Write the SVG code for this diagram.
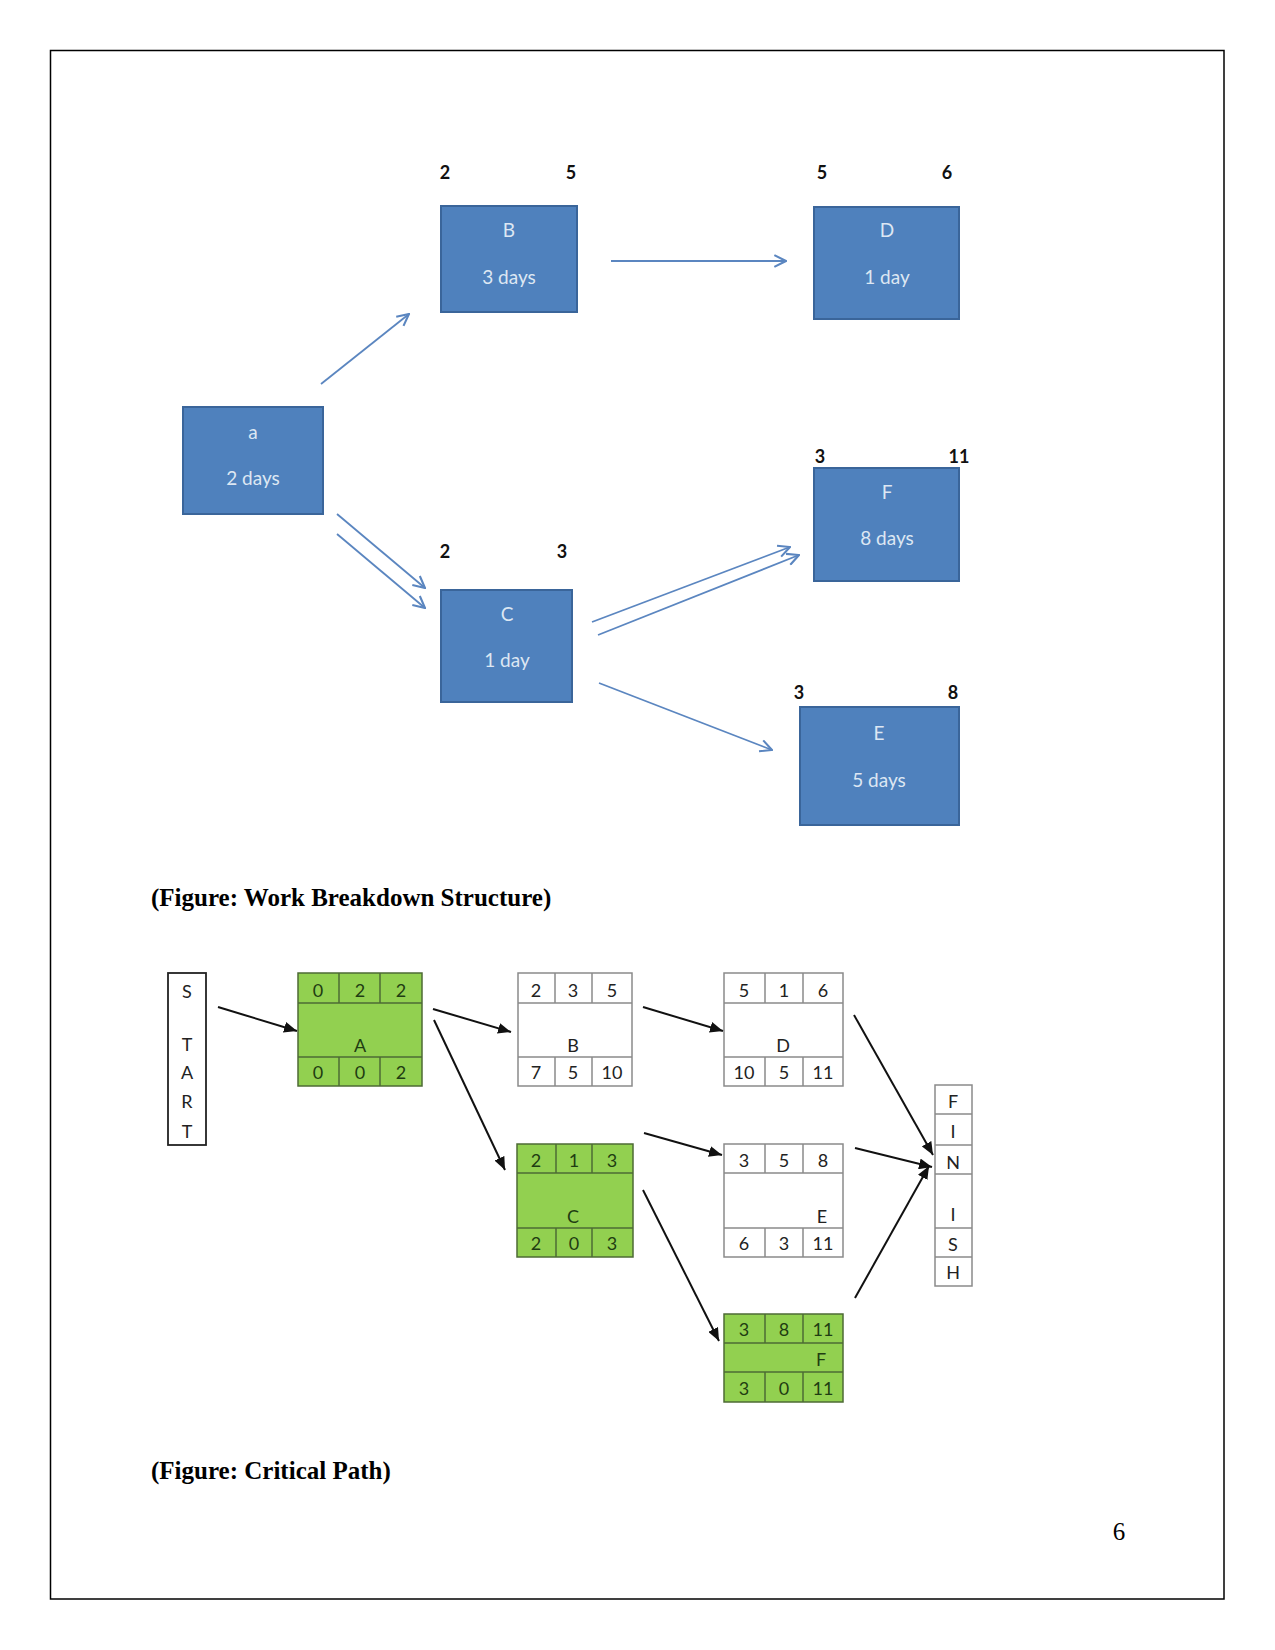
<svg xmlns="http://www.w3.org/2000/svg" width="1275" height="1650" viewBox="0 0 1275 1650">
<defs>
<style>
.bx{fill:#4f81bd;stroke:#3a659a;stroke-width:2}
.bt{font-family:Lato,"Open Sans",sans-serif;font-size:19px;fill:#dde7f3;text-anchor:middle}
.lb{font-family:Lato,"Open Sans",sans-serif;font-size:18px;font-weight:bold;fill:#111;text-anchor:middle}
.wa{stroke:#5b86c0;stroke-width:1.8;fill:none}
.ca{stroke:#111;stroke-width:2;fill:none}
.g{fill:#92d050;stroke:#4d6b35;stroke-width:1.5}
.w{fill:#fff;stroke:#8a8a8a;stroke-width:1.5}
.gl{stroke:#4d6b35;stroke-width:1.5}
.wl{stroke:#8a8a8a;stroke-width:1.5}
.ct{font-family:Lato,"Open Sans",sans-serif;font-size:18px;fill:#222;text-anchor:middle}
.cg{font-family:Lato,"Open Sans",sans-serif;font-size:18px;fill:#1f3d12;text-anchor:middle}
.cap{font-family:"Liberation Serif",serif;font-size:25px;font-weight:bold;fill:#000}
</style>
<marker id="oa" viewBox="0 0 12 12" refX="11" refY="6" markerWidth="14" markerHeight="14" markerUnits="userSpaceOnUse" orient="auto">
<path d="M1,1 L11,6 L1,11" fill="none" stroke="#5b86c0" stroke-width="1.8"/>
</marker>
<marker id="fa" viewBox="0 0 12 10" refX="12" refY="5" markerWidth="13" markerHeight="11" markerUnits="userSpaceOnUse" orient="auto">
<path d="M0,0 L12,5 L0,10 z" fill="#111"/>
</marker>
</defs>
<rect x="0" y="0" width="1275" height="1650" fill="#fff"/>
<rect x="50.5" y="50.5" width="1173.5" height="1548.5" fill="none" stroke="#000" stroke-width="1.5"/>

<!-- WBS nodes -->
<g id="wbs-a"><rect class="bx" x="183" y="407" width="140" height="107"/><text class="bt" x="253" y="439">a</text><text class="bt" x="253" y="485">2 days</text></g>
<g id="wbs-B"><rect class="bx" x="441" y="206" width="136" height="106"/><text class="bt" x="509" y="237">B</text><text class="bt" x="509" y="284">3 days</text><text class="lb" x="445" y="179">2</text><text class="lb" x="571" y="179">5</text></g>
<g id="wbs-D"><rect class="bx" x="814" y="207" width="145" height="112"/><text class="bt" x="887" y="237">D</text><text class="bt" x="887" y="284">1 day</text><text class="lb" x="822" y="179">5</text><text class="lb" x="947" y="179">6</text></g>
<g id="wbs-C"><rect class="bx" x="441" y="590" width="131" height="112"/><text class="bt" x="507" y="621">C</text><text class="bt" x="507" y="667">1 day</text><text class="lb" x="445" y="558">2</text><text class="lb" x="562" y="558">3</text></g>
<g id="wbs-F"><rect class="bx" x="814" y="468" width="145" height="113"/><text class="bt" x="887" y="499">F</text><text class="bt" x="887" y="545">8 days</text><text class="lb" x="820" y="463">3</text><text class="lb" x="959" y="463">11</text></g>
<g id="wbs-E"><rect class="bx" x="800" y="707" width="159" height="118"/><text class="bt" x="879" y="740">E</text><text class="bt" x="879" y="787">5 days</text><text class="lb" x="799" y="699">3</text><text class="lb" x="953" y="699">8</text></g>

<g id="wbs-connectors">
<line class="wa" x1="321" y1="384" x2="409" y2="314" marker-end="url(#oa)"/>
<line class="wa" x1="611" y1="261" x2="786" y2="261" marker-end="url(#oa)"/>
<line class="wa" x1="337" y1="514" x2="425" y2="588" marker-end="url(#oa)"/>
<line class="wa" x1="337" y1="534" x2="425" y2="608" marker-end="url(#oa)"/>
<line class="wa" x1="592" y1="622" x2="790" y2="547" marker-end="url(#oa)"/>
<line class="wa" x1="598" y1="635" x2="799" y2="555" marker-end="url(#oa)"/>
<line class="wa" x1="599" y1="683" x2="772" y2="750" marker-end="url(#oa)"/>
</g>

<text class="cap" x="151" y="906">(Figure: Work Breakdown Structure)</text>

<!-- Critical path nodes -->
<g id="cp-start"><rect x="168" y="973" width="38" height="172" fill="#fff" stroke="#222" stroke-width="1.8"/>
<text class="ct" x="187" y="998">S</text><text class="ct" x="187" y="1051">T</text><text class="ct" x="187" y="1079">A</text><text class="ct" x="187" y="1108">R</text><text class="ct" x="187" y="1138">T</text></g>

<g id="cp-A"><rect class="g" x="298" y="973" width="124" height="113"/>
<line class="gl" x1="298" y1="1003" x2="422" y2="1003"/><line class="gl" x1="298" y1="1057" x2="422" y2="1057"/>
<line class="gl" x1="339" y1="973" x2="339" y2="1003"/><line class="gl" x1="380" y1="973" x2="380" y2="1003"/>
<line class="gl" x1="339" y1="1057" x2="339" y2="1086"/><line class="gl" x1="380" y1="1057" x2="380" y2="1086"/>
<text class="cg" x="318" y="997">0</text><text class="cg" x="360" y="997">2</text><text class="cg" x="401" y="997">2</text>
<text class="cg" x="360" y="1052">A</text>
<text class="cg" x="318" y="1079">0</text><text class="cg" x="360" y="1079">0</text><text class="cg" x="401" y="1079">2</text></g>

<g id="cp-B"><rect class="w" x="518" y="973" width="114" height="113"/>
<line class="wl" x1="518" y1="1003" x2="632" y2="1003"/><line class="wl" x1="518" y1="1057" x2="632" y2="1057"/>
<line class="wl" x1="555" y1="973" x2="555" y2="1003"/><line class="wl" x1="592" y1="973" x2="592" y2="1003"/>
<line class="wl" x1="555" y1="1057" x2="555" y2="1086"/><line class="wl" x1="592" y1="1057" x2="592" y2="1086"/>
<text class="ct" x="536" y="997">2</text><text class="ct" x="573" y="997">3</text><text class="ct" x="612" y="997">5</text>
<text class="ct" x="573" y="1052">B</text>
<text class="ct" x="536" y="1079">7</text><text class="ct" x="573" y="1079">5</text><text class="ct" x="612" y="1079">10</text></g>

<g id="cp-D"><rect class="w" x="724" y="973" width="119" height="113"/>
<line class="wl" x1="724" y1="1003" x2="843" y2="1003"/><line class="wl" x1="724" y1="1057" x2="843" y2="1057"/>
<line class="wl" x1="765" y1="973" x2="765" y2="1003"/><line class="wl" x1="803" y1="973" x2="803" y2="1003"/>
<line class="wl" x1="765" y1="1057" x2="765" y2="1086"/><line class="wl" x1="803" y1="1057" x2="803" y2="1086"/>
<text class="ct" x="744" y="997">5</text><text class="ct" x="784" y="997">1</text><text class="ct" x="823" y="997">6</text>
<text class="ct" x="783" y="1052">D</text>
<text class="ct" x="744" y="1079">10</text><text class="ct" x="784" y="1079">5</text><text class="ct" x="823" y="1079">11</text></g>

<g id="cp-C"><rect class="g" x="517" y="1144" width="116" height="113"/>
<line class="gl" x1="517" y1="1173" x2="633" y2="1173"/><line class="gl" x1="517" y1="1228" x2="633" y2="1228"/>
<line class="gl" x1="556" y1="1144" x2="556" y2="1173"/><line class="gl" x1="592" y1="1144" x2="592" y2="1173"/>
<line class="gl" x1="556" y1="1228" x2="556" y2="1257"/><line class="gl" x1="592" y1="1228" x2="592" y2="1257"/>
<text class="cg" x="536" y="1167">2</text><text class="cg" x="574" y="1167">1</text><text class="cg" x="612" y="1167">3</text>
<text class="cg" x="573" y="1223">C</text>
<text class="cg" x="536" y="1250">2</text><text class="cg" x="574" y="1250">0</text><text class="cg" x="612" y="1250">3</text></g>

<g id="cp-E"><rect class="w" x="724" y="1144" width="119" height="113"/>
<line class="wl" x1="724" y1="1173" x2="843" y2="1173"/><line class="wl" x1="724" y1="1228" x2="843" y2="1228"/>
<line class="wl" x1="765" y1="1144" x2="765" y2="1173"/><line class="wl" x1="803" y1="1144" x2="803" y2="1173"/>
<line class="wl" x1="765" y1="1228" x2="765" y2="1257"/><line class="wl" x1="803" y1="1228" x2="803" y2="1257"/>
<text class="ct" x="744" y="1167">3</text><text class="ct" x="784" y="1167">5</text><text class="ct" x="823" y="1167">8</text>
<text class="ct" x="822" y="1223">E</text>
<text class="ct" x="744" y="1250">6</text><text class="ct" x="784" y="1250">3</text><text class="ct" x="823" y="1250">11</text></g>

<g id="cp-F"><rect class="g" x="724" y="1314" width="119" height="88"/>
<line class="gl" x1="724" y1="1343" x2="843" y2="1343"/><line class="gl" x1="724" y1="1372" x2="843" y2="1372"/>
<line class="gl" x1="765" y1="1314" x2="765" y2="1343"/><line class="gl" x1="803" y1="1314" x2="803" y2="1343"/>
<line class="gl" x1="765" y1="1372" x2="765" y2="1402"/><line class="gl" x1="803" y1="1372" x2="803" y2="1402"/>
<text class="cg" x="744" y="1336">3</text><text class="cg" x="784" y="1336">8</text><text class="cg" x="823" y="1336">11</text>
<text class="cg" x="821" y="1366">F</text>
<text class="cg" x="744" y="1395">3</text><text class="cg" x="784" y="1395">0</text><text class="cg" x="823" y="1395">11</text></g>

<g id="cp-finish"><rect class="w" x="935" y="1085" width="37" height="201"/>
<line class="wl" x1="935" y1="1114" x2="972" y2="1114"/><line class="wl" x1="935" y1="1145" x2="972" y2="1145"/>
<line class="wl" x1="935" y1="1174" x2="972" y2="1174"/><line class="wl" x1="935" y1="1228" x2="972" y2="1228"/>
<line class="wl" x1="935" y1="1257" x2="972" y2="1257"/>
<text class="ct" x="953" y="1108">F</text><text class="ct" x="953" y="1138">I</text><text class="ct" x="953" y="1169">N</text>
<text class="ct" x="953" y="1221">I</text><text class="ct" x="953" y="1251">S</text><text class="ct" x="953" y="1279">H</text></g>

<g id="cp-connectors">
<line class="ca" x1="218" y1="1007" x2="297" y2="1031" marker-end="url(#fa)"/>
<line class="ca" x1="433" y1="1009" x2="511" y2="1032" marker-end="url(#fa)"/>
<line class="ca" x1="434" y1="1020" x2="505" y2="1170" marker-end="url(#fa)"/>
<line class="ca" x1="643" y1="1007" x2="723" y2="1031" marker-end="url(#fa)"/>
<line class="ca" x1="644" y1="1133" x2="722" y2="1155" marker-end="url(#fa)"/>
<line class="ca" x1="643" y1="1190" x2="719" y2="1341" marker-end="url(#fa)"/>
<line class="ca" x1="854" y1="1015" x2="933" y2="1155" marker-end="url(#fa)"/>
<line class="ca" x1="855" y1="1148" x2="932" y2="1167" marker-end="url(#fa)"/>
<line class="ca" x1="855" y1="1298" x2="929" y2="1166" marker-end="url(#fa)"/>
</g>

<text class="cap" x="151" y="1479">(Figure: Critical Path)</text>
<text x="1119" y="1540" font-family="Liberation Serif, serif" font-size="25" text-anchor="middle" fill="#000">6</text>
</svg>
